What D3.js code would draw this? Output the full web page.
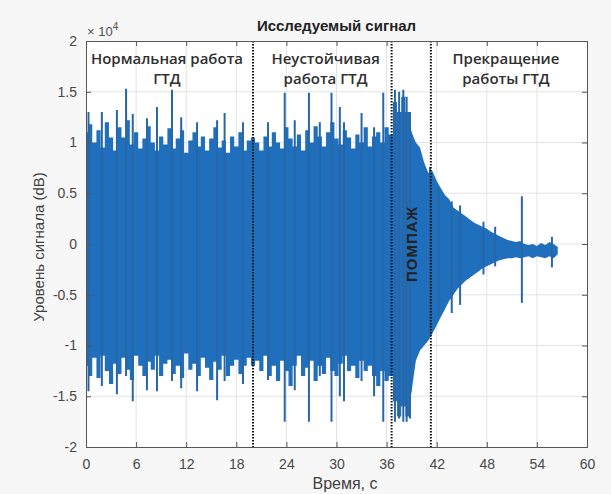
<!DOCTYPE html>
<html>
<head>
<meta charset="utf-8">
<script src="https://cdn.jsdelivr.net/npm/d3@7"></script>
<style>
  body { margin: 0; background: #f7f7f7; }
  svg { display: block; }
  .tick-label { font-family: "Liberation Sans", Arial, sans-serif; font-size: 14px; fill: #484848; }
  .note { font-family: "Open Sans", sans-serif; font-weight: 600; font-size: 15px; fill: #303030; }
</style>
</head>
<body>
<div id="chart"></div>
<script>
////////////////////////////  Data  ////////////////////////////
// signal envelope, x10^4, sampled every 0.5 s from t = 0
const envStep = 0.5;
const envUpper = [
  1.1, 1.18, 1.0, 1.12, 0.95, 1.2, 1.05, 0.92, 1.15, 1.05, 1.22, 0.98, 1.1, 0.94, 1.04, 1.16, 1.0, 0.92, 1.06, 0.98,
  1.14, 0.94, 1.04, 1.12, 0.9, 1.02, 1.1, 0.96, 1.06, 0.92, 1.04, 1.15, 0.95, 1.02, 0.9, 1.06, 0.96, 1.1, 0.92, 1.02, 1.05,
  1.0, 0.92, 1.06, 0.96, 1.1, 1.0, 0.94, 1.15, 1.04, 0.96, 1.08, 0.92, 1.12, 1.0, 1.16, 1.06, 0.96, 1.1, 1.2, 1.04,
  0.98, 1.12, 1.05, 0.94, 1.08, 1.0, 1.15, 0.96, 1.06, 1.1, 1.0, 1.15, 1.08,
  1.4, 1.3, 1.45, 1.3, 1.1, 1.0, 0.95, 0.8, 0.7, 0.72, 0.62, 0.55, 0.48, 0.44, 0.36, 0.33, 0.3, 0.27, 0.24, 0.21,
  0.19, 0.17, 0.15, 0.12, 0.1, 0.08, 0.06, 0.04, 0.03, 0.02, 0.03, 0.0, -0.01, 0.0, -0.02, 0.01, -0.01, 0.02, 0.0, -0.03
];
const envLower = [
  -1.2, -1.3, -1.12, -1.32, -1.1, -1.25, -1.38, -1.18, -1.28, -1.12, -1.24, -1.34, -1.1, -1.2, -1.3, -1.16, -1.24, -1.1, -1.3, -1.18,
  -1.14, -1.28, -1.2, -1.32, -1.08, -1.24, -1.18, -1.3, -1.12, -1.22, -1.34, -1.16, -1.24, -1.1, -1.3, -1.2, -1.14, -1.28, -1.2, -1.12, -1.2,
  -1.15, -1.25, -1.1, -1.3, -1.2, -1.35, -1.15, -1.25, -1.4, -1.2, -1.1, -1.3, -1.22, -1.15, -1.35, -1.2, -1.28, -1.12, -1.25, -1.3,
  -1.18, -1.1, -1.25, -1.2, -1.32, -1.15, -1.25, -1.2, -1.3, -1.4, -1.25, -1.35, -1.3,
  -1.55, -1.7, -1.6, -1.7, -1.45, -1.15, -1.05, -1.0, -0.95, -0.88, -0.8, -0.72, -0.64, -0.56, -0.5, -0.44, -0.4, -0.36, -0.33, -0.3,
  -0.27, -0.24, -0.22, -0.2, -0.18, -0.16, -0.15, -0.14, -0.14, -0.13, -0.14, -0.13, -0.12, -0.14, -0.12, -0.13, -0.14, -0.12, -0.14, -0.1
];
// time where the noisy band gives way to the smooth decay (s)
const decayStart = 39;

// individual peaks: time (s), max and min (x10^4)
const spikeT  = [0.3, 1.9, 3.7, 4.8, 5.6, 7.3, 8.5, 10.3, 11.4, 13.3, 15.7, 16.6, 18.8,
                 21.8, 23.8, 25.0, 26.7, 28.0, 29.4, 30.4, 30.9, 33.0, 34.5, 35.6,
                 37.0, 37.5, 38.0, 38.4, 38.8,
                 41.2, 42.2, 43.8, 44.8, 47.6, 49.0, 52.2, 55.8];
const spikeHi = [1.3, 1.3, 1.32, 1.53, 1.28, 1.24, 1.35, 1.52, 1.25, 1.2, 1.22, 1.29, 1.2,
                 1.2, 1.49, 1.22, 1.49, 1.2, 1.49, 1.35, 1.2, 1.29, 1.15, 1.49,
                 1.52, 1.5, 1.52, 1.45, 1.3,
                 0.76, 0.55, 0.42, 0.38, 0.22, 0.17, 0.47, 0.07];
const spikeLo = [-1.45, -1.4, -1.48, -1.3, -1.55, -1.44, -1.45, -1.35, -1.42, -1.45, -1.54, -1.35, -1.38,
                 -1.34, -1.75, -1.44, -1.75, -1.3, -1.75, -1.5, -1.55, -1.35, -1.5, -1.75,
                 -1.75, -1.72, -1.75, -1.75, -1.72,
                 -0.9, -0.72, -0.68, -0.6, -0.3, -0.22, -0.58, -0.23];

// phase boundaries (s)
const boundaries = [20, 36.6, 41.3];

// axis ticks
const xTicks = [0, 6, 12, 18, 24, 30, 36, 42, 48, 54, 60];
const yTicks = [-2, -1.5, -1, -0.5, 0, 0.5, 1, 1.5, 2];

// phase labels: lines and centre time
const phaseLines = [["Нормальная работа", "ГТД"], ["Неустойчивая", "работа ГТД"], ["Прекращение", "работы ГТД"]];
const phaseT = [9.7, 28.7, 50.3];

////////////////////////////  Init  ////////////////////////////
const width = 611;
const height = 494;
const margin = { top: 41, right: 24, bottom: 47, left: 86 };

const svg = d3.select("#chart").append("svg")
  .attr("width", width)
  .attr("height", height);

const xScale = d3.scaleLinear().domain([0, 60]).range([margin.left, width - margin.right]);
const yScale = d3.scaleLinear().domain([-2, 2]).range([height - margin.bottom, margin.top]);

const x0 = margin.left, x1 = width - margin.right;
const y0 = margin.top, y1 = height - margin.bottom;

// plot background
svg.append("rect")
  .attr("x", x0).attr("y", y0)
  .attr("width", x1 - x0).attr("height", y1 - y0)
  .attr("fill", "#fff");

// grid
svg.append("g").selectAll("line").data(xTicks.slice(1, -1)).enter().append("line")
  .attr("x1", d => xScale(d)).attr("x2", d => xScale(d))
  .attr("y1", y0).attr("y2", y1)
  .attr("stroke", "#e3e3e3");
svg.append("g").selectAll("line").data(yTicks.slice(1, -1)).enter().append("line")
  .attr("x1", x0).attr("x2", x1)
  .attr("y1", d => yScale(d)).attr("y2", d => yScale(d))
  .attr("stroke", "#e3e3e3");

// signal band: noisy part drawn stepwise, decay drawn smoothly
const envData = envUpper.map((u, i) => ({ t: i * envStep, u: u, l: envLower[i] }));
const noisy = envData.filter(d => d.t <= decayStart);
const decay = envData.filter(d => d.t >= decayStart - envStep);

const areaStep = d3.area()
  .curve(d3.curveStep)
  .x(d => xScale(d.t))
  .y0(d => yScale(d.l))
  .y1(d => yScale(d.u));
const areaSmooth = d3.area()
  .x(d => xScale(d.t))
  .y0(d => yScale(d.l))
  .y1(d => yScale(d.u));

svg.append("path").datum(noisy).attr("d", areaStep).attr("fill", "#1f6fbd");
svg.append("path").datum(decay).attr("d", areaSmooth).attr("fill", "#1f6fbd");

// peaks
svg.append("g").selectAll("line").data(spikeT).enter().append("line")
  .attr("x1", d => xScale(d)).attr("x2", d => xScale(d))
  .attr("y1", (d, i) => yScale(spikeHi[i]))
  .attr("y2", (d, i) => yScale(spikeLo[i]))
  .attr("stroke", "#2866a6")
  .attr("stroke-width", 2);

// phase boundaries
svg.append("g").selectAll("line").data(boundaries).enter().append("line")
  .attr("x1", d => xScale(d)).attr("x2", d => xScale(d))
  .attr("y1", y0).attr("y2", y1)
  .attr("stroke", "#111")
  .attr("stroke-width", 2)
  .attr("stroke-dasharray", "1.5,1.5");

// axes (MATLAB style box, ticks inside)
const axisX = d3.axisBottom(xScale).tickValues(xTicks).tickSize(-5).tickPadding(10).tickFormat(d => d);
const axisXTop = d3.axisTop(xScale).tickValues(xTicks).tickSize(-5).tickFormat("");
const axisY = d3.axisLeft(yScale).tickValues(yTicks).tickSize(-5).tickPadding(9).tickFormat(d => String(d));
const axisYRight = d3.axisRight(yScale).tickValues(yTicks).tickSize(-5).tickFormat("");

function styleAxis(g) {
  g.selectAll(".domain").attr("stroke", "#555");
  g.selectAll(".tick line").attr("stroke", "#555");
  g.selectAll(".tick text").attr("class", "tick-label");
}

svg.append("g").attr("transform", `translate(0,${y1})`).call(axisX).call(styleAxis)
  .selectAll(".tick text").attr("dy", "0.85em");
svg.append("g").attr("transform", `translate(0,${y0})`).call(axisXTop).call(styleAxis);
svg.append("g").attr("transform", `translate(${x0},0)`).call(axisY).call(styleAxis);
svg.append("g").attr("transform", `translate(${x1},0)`).call(axisYRight).call(styleAxis);

svg.selectAll(".domain").attr("fill", "none");

// exponent
const expo = svg.append("text")
  .attr("x", x0 + 1).attr("y", y0 - 5)
  .attr("font-family", "Liberation Sans, Arial, sans-serif")
  .attr("font-size", 13)
  .attr("fill", "#505050");
expo.append("tspan").text("× 10");
expo.append("tspan").attr("font-size", 10).attr("dy", -6).text("4");

// title
svg.append("text")
  .attr("x", (x0 + x1) / 2).attr("y", 31)
  .attr("text-anchor", "middle")
  .attr("font-family", "Liberation Sans, Arial, sans-serif")
  .attr("font-weight", "bold")
  .attr("font-size", 15)
  .attr("fill", "#222")
  .text("Исследуемый сигнал");

// units
svg.append("text")
  .attr("transform", "translate(44,247) rotate(-90)")
  .attr("text-anchor", "middle")
  .attr("font-family", "Liberation Sans, Arial, sans-serif")
  .attr("font-size", 15)
  .attr("fill", "#404040")
  .text("Уровень сигнала (dB)");

svg.append("text")
  .attr("x", 345).attr("y", 489)
  .attr("text-anchor", "middle")
  .attr("font-family", "Liberation Sans, Arial, sans-serif")
  .attr("font-size", 16)
  .attr("fill", "#404040")
  .text("Время, с");

// phase labels
phaseLines.forEach((lines, i) => {
  lines.forEach((s, j) => {
    svg.append("text")
      .attr("class", "note")
      .attr("x", xScale(phaseT[i]))
      .attr("y", yScale(1.77) + j * 20)
      .attr("text-anchor", "middle")
      .text(s);
  });
});

svg.append("text")
  .attr("transform", `translate(${xScale(39.7)},${yScale(0)}) rotate(-90)`)
  .attr("text-anchor", "middle")
  .attr("font-family", "Liberation Sans, Arial, sans-serif")
  .attr("font-weight", "bold")
  .attr("font-size", 15)
  .attr("letter-spacing", 1)
  .attr("fill", "#222")
  .text("ПОМПАЖ");
</script>
</body>
</html>
